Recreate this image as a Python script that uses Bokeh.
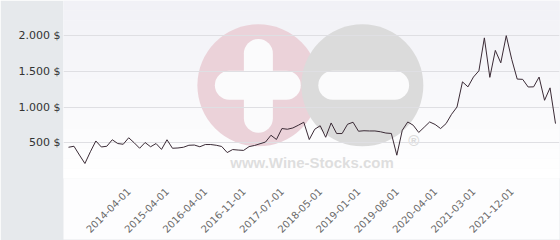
import math
from bokeh.plotting import figure
from bokeh.models import Range1d, FixedTicker
from bokeh.core.properties import value
from bokeh.embed import file_html
from bokeh.resources import INLINE

# ---- data ----
prices = [437, 451, 328, 210, 374, 525, 441, 451, 542, 489,
          479, 570, 500, 423, 503, 444, 489, 407, 542, 423,
          427, 437, 465, 468, 444, 475, 475, 465, 448, 363,
          405, 398, 393, 446, 462, 486, 510, 605, 546, 699,
          689, 707, 745, 787, 545, 689, 738, 577, 777, 629,
          629, 759, 787, 661, 668, 665, 665, 654, 636, 630,
          326, 675, 791, 745, 644, 717, 791, 756, 699, 768,
          898, 1000, 1352, 1282, 1419, 1506, 1967, 1415, 1792, 1618,
          1998, 1667, 1391, 1387, 1280, 1282, 1419, 1094, 1268, 768]
tick_index = [11, 18, 25, 32, 39, 46, 53, 60, 67, 74, 81]
tick_labels = ["2014-04-01", "2015-04-01", "2016-04-01", "2016-11-01",
               "2017-07-01", "2018-05-01", "2019-01-01", "2019-08-01",
               "2020-04-01", "2021-03-01", "2021-12-01"]
y_ticks = [0, 500, 1000, 1500, 2000]
y_tick_labels = ["", "500 $", "1.000 $", "1.500 $", "2.000 $"]

x = list(range(len(prices)))
pad_l = 0.914  # padding left of the first point
pad_r = 0.73   # padding right of the last point

p = figure(width=560, height=240, output_backend="svg", toolbar_location=None,
           x_range=Range1d(-pad_l, len(prices) - 1 + pad_r), y_range=Range1d(0, 2490),
           min_border_left=63, min_border_right=1, min_border_top=0,
           min_border_bottom=62, border_fill_color="#e6e9ec",
           background_fill_color="#f8f8fa", outline_line_color=None)

# soft vertical gradient of the plot background (decoration)
nb = 18
edges = [2490 * k / nb for k in range(nb + 1)]
cols = []
for k in range(nb):
    t = (k + 0.5) / nb  # 0 bottom .. 1 top
    c = tuple(int(round(255 + (a - 255) * t)) for a in (241, 241, 246))
    cols.append("#%02x%02x%02x" % c)
p.quad(left=-pad_l - 1, right=len(prices) + 1, bottom=edges[:-1], top=edges[1:],
       fill_color=cols, line_color=None, level="image")

# watermark (decoration)
p.circle(x=[34.7], y=[1303], radius=61, radius_units="screen",
         fill_color="#ebd2d9", line_color=None, level="image")
p.circle(x=[53.7], y=[1303], radius=61, radius_units="screen",
         fill_color="#dbdbdb", line_color=None, level="image")
p.segment(x0=[34.7, 29.4, 48.3], y0=[1750, 1303, 1303],
          x1=[34.7, 39.8, 59.6], y1=[842, 1303, 1303],
          line_width=29, line_cap="round", line_color="#fbfbfc", level="image")
p.text(x=[44.5], y=[228], text=["www.Wine-Stocks.com"],
       text_font=value("Liberation Sans"), text_font_style="bold",
       text_font_size="15px", text_color="#dedede", text_align="center",
       text_baseline="middle", level="image")
p.text(x=[63.1], y=[535], text=["®"], text_font=value("Liberation Sans"),
       text_font_style="bold", text_font_size="15px", text_color="#dadada",
       text_align="center", text_baseline="middle", level="image")

p.line(x, prices, line_color="#3a2a35", line_width=1)

# axes
p.xaxis.ticker = FixedTicker(ticks=tick_index)
p.xaxis.major_label_overrides = dict(zip(tick_index, tick_labels))
p.xaxis.major_label_orientation = math.pi / 4
p.xaxis.axis_line_color = None
p.xaxis.major_tick_line_color = None
p.xaxis.minor_tick_line_color = None
p.xaxis.major_tick_out = 0
p.xaxis.major_label_text_font = "DejaVu Sans"
p.xaxis.major_label_text_font_size = "10px"
p.xaxis.major_label_text_color = "#6a6a6a"
p.xaxis.major_label_standoff = 11
p.xaxis.background_fill_color = "#fdfdfe"
p.xgrid.visible = False

p.yaxis.ticker = FixedTicker(ticks=y_ticks)
p.yaxis.major_label_overrides = dict(zip(y_ticks, y_tick_labels))
p.yaxis.axis_line_color = None
p.yaxis.major_tick_line_color = None
p.yaxis.minor_tick_line_color = None
p.yaxis.major_tick_out = 0
p.yaxis.major_label_text_font = "DejaVu Sans"
p.yaxis.major_label_text_font_size = "11px"
p.yaxis.major_label_text_color = "#333333"
p.yaxis.major_label_standoff = 3
p.ygrid.grid_line_color = "#dfdfe3"
p.ygrid.grid_line_width = 1

open("out.html", "w").write(file_html(p, INLINE))
